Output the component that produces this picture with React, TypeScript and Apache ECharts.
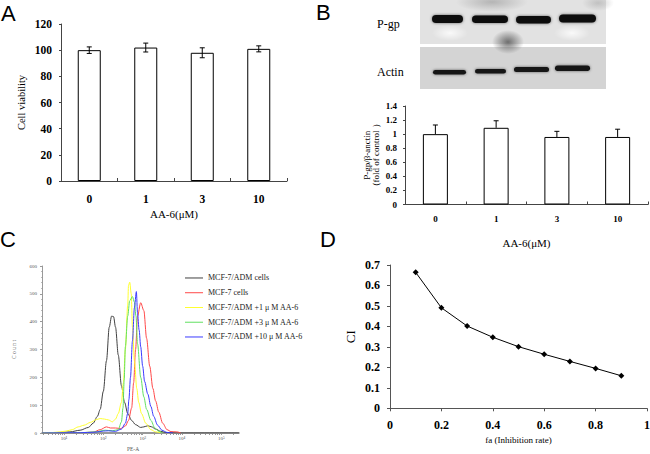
import { useEffect, useRef } from "react";
import * as echarts from "echarts";

const SERIF = "'Liberation Serif', 'Times New Roman', serif";
const SANS = "'Liberation Sans', Arial, sans-serif";

// A: cell viability
const doses = ["0", "1", "3", "10"];
const viability = [100, 102, 98, 101];
const viabilityErr = [2.5, 3.4, 3.8, 2.3];

// B: P-gp / beta-actin
const pgpRatio = [1.0, 1.09, 0.96, 0.96];
const pgpErr = [0.13, 0.1, 0.08, 0.11];

// C: flow cytometry histograms, x = log10(PE-A)
const flowNames = [
  "MCF-7/ADM cells",
  "MCF-7 cells",
  "MCF-7/ADM +1 μ M AA-6",
  "MCF-7/ADM +3 μ M AA-6",
  "MCF-7/ADM +10 μ M AA-6",
];
const flowColors = ["#404040", "#ff4848", "#ffff30", "#60e060", "#3a3aff"];
const flowAdm = [
  [0.44, 0], [0.9, 2], [1.15, 4], [1.41, 10], [1.62, 20], [1.74, 35], [1.85, 60], [1.92, 85],
  [2.0, 150], [2.08, 260], [2.15, 380], [2.21, 420], [2.26, 418], [2.31, 380], [2.38, 280],
  [2.46, 170], [2.54, 110], [2.62, 70], [2.72, 45], [2.82, 30], [2.95, 20], [3.03, 22],
  [3.13, 26], [3.23, 22], [3.33, 14], [3.46, 6], [3.59, 2], [3.85, 0], [5.45, 0],
];
const flowMcf7 = [
  [0.44, 0], [1.41, 1], [1.74, 3], [1.92, 12], [2.08, 22], [2.18, 18], [2.31, 18], [2.44, 16],
  [2.56, 25], [2.64, 45], [2.72, 90], [2.77, 180], [2.82, 300], [2.87, 420], [2.95, 468],
  [3.03, 440], [3.1, 340], [3.18, 240], [3.26, 160], [3.33, 115], [3.41, 75], [3.51, 35],
  [3.62, 12], [3.72, 5], [3.87, 4], [3.97, 0],
];
const flowAa1 = [
  [0.44, 0], [0.64, 1], [0.9, 4], [1.05, 7], [1.21, 12], [1.36, 22], [1.51, 28], [1.67, 38],
  [1.82, 48], [1.92, 52], [2.03, 50], [2.13, 47], [2.23, 40], [2.31, 50], [2.38, 70],
  [2.46, 110], [2.51, 180], [2.56, 300], [2.62, 460], [2.64, 530], [2.67, 542], [2.71, 500],
  [2.74, 380], [2.79, 260], [2.85, 160], [2.9, 110], [2.97, 70], [3.08, 35], [3.21, 12],
  [3.33, 4], [3.46, 0],
];
const flowAa3 = [
  [0.44, 0], [1.41, 1], [1.79, 4], [2.05, 10], [2.23, 8], [2.38, 12], [2.46, 40], [2.5, 90],
  [2.53, 190], [2.56, 310], [2.62, 420], [2.67, 475], [2.74, 490], [2.79, 470], [2.83, 420],
  [2.87, 320], [2.95, 200], [3.03, 130], [3.1, 85], [3.21, 45], [3.31, 18], [3.41, 6], [3.51, 0],
];
const flowAa10 = [
  [0.44, 0], [1.41, 1], [1.79, 3], [2.0, 7], [2.13, 8], [2.31, 6], [2.46, 14], [2.56, 35],
  [2.62, 70], [2.65, 120], [2.69, 200], [2.74, 330], [2.79, 450], [2.84, 508], [2.87, 430],
  [2.91, 370], [2.95, 310], [3.0, 240], [3.05, 185], [3.13, 140], [3.21, 95], [3.28, 60],
  [3.38, 28], [3.49, 10], [3.62, 2], [3.77, 0],
];
const flowData = [flowAdm, flowMcf7, flowAa1, flowAa3, flowAa10];
const decades = [1, 2, 3, 4, 5];
const superscripts = ["⁰", "¹", "²", "³", "⁴", "⁵"];

// D: combination index
const faValues = [0.1, 0.2, 0.3, 0.4, 0.5, 0.6, 0.7, 0.8, 0.9];
const ciValues = [0.664, 0.491, 0.402, 0.347, 0.301, 0.264, 0.229, 0.195, 0.159];

const minorLogTicks: number[] = [];
for (let n = 0; n <= 5; n++) {
  for (let m = 1; m <= 9; m++) {
    const v = n + Math.log10(m);
    if (v >= 0.44 && v <= 5.45) minorLogTicks.push(v);
  }
}

const errorBars = (both: boolean) => (_params: any, api: any) => {
  const i = api.value(0);
  const lo = api.coord([i, api.value(1)]);
  const hi = api.coord([i, api.value(2)]);
  const style = { stroke: "#000", lineWidth: 1 };
  const children: any[] = [
    { type: "line", shape: { x1: hi[0], y1: hi[1], x2: lo[0], y2: lo[1] }, style },
    { type: "line", shape: { x1: hi[0] - 2.5, y1: hi[1], x2: hi[0] + 2.5, y2: hi[1] }, style },
  ];
  if (both) {
    children.push({ type: "line", shape: { x1: lo[0] - 2.5, y1: lo[1], x2: lo[0] + 2.5, y2: lo[1] }, style });
  }
  return { type: "group", children };
};

// western blot drawing helpers
const band = (x: number, y: number, w: number, h: number, fill: string) => ({
  type: "rect",
  shape: { x, y, width: w, height: h, r: h / 2 },
  style: { fill, shadowBlur: 3, shadowColor: "rgba(0,0,0,0.55)" },
  z: 3,
});

const smudge = (cx: number, cy: number, rx: number, ry: number, rgb: string, a: number) => ({
  type: "ellipse",
  shape: { cx, cy, rx, ry },
  style: {
    fill: new echarts.graphic.RadialGradient(0.5, 0.5, 0.5, [
      { offset: 0, color: `rgba(${rgb},${a})` },
      { offset: 1, color: `rgba(${rgb},0)` },
    ]),
  },
  z: 2,
});

export default function App() {
  const ref = useRef<HTMLDivElement | null>(null);

  useEffect(() => {
    if (!ref.current) return;
    const chart = echarts.init(ref.current, undefined, { renderer: "svg" });

    const axisGray = { lineStyle: { color: "#444", width: 1 } };
    const catAxis = (gridIndex: number, margin: number, fontSize: number, name: string, nameGap: number) => ({
      type: "category",
      gridIndex,
      data: doses,
      axisLine: axisGray,
      axisTick: { show: true, inside: true, length: 3, lineStyle: { color: "#444" } },
      axisLabel: { margin, fontFamily: SERIF, fontSize, fontWeight: "bold", color: "#000" },
      name,
      nameLocation: "middle",
      nameGap,
      nameTextStyle: { fontFamily: SERIF, fontSize: 11, color: "#000" },
    });

    chart.setOption({
      animation: false,
      grid: [
        { left: 61, top: 24, width: 226, height: 157, outerBoundsMode: "none" },
        { left: 405, top: 106, width: 243, height: 98.5, outerBoundsMode: "none" },
        { left: 42, top: 266, width: 197, height: 167, outerBoundsMode: "none" },
        { left: 390, top: 265, width: 257, height: 143.3, outerBoundsMode: "none" },
      ],
      legend: {
        data: flowNames.map((name) => ({ name })),
        orient: "vertical",
        left: 185,
        top: 270.6,
        padding: 0,
        itemGap: 0,
        itemWidth: 18,
        itemHeight: 1,
        icon: "rect",
        textStyle: { fontFamily: SERIF, fontSize: 8, color: "#222", lineHeight: 14.75 },
      },
      xAxis: [
        catAxis(0, 12, 11.5, "AA-6(μM)", 27),
        catAxis(1, 10, 9, "AA-6(μM)", 33),
        {
          type: "value",
          gridIndex: 2,
          min: 0.44,
          max: 5.45,
          axisLine: { lineStyle: { color: "#777", width: 1.5 } },
          axisTick: { show: true, length: 2, customValues: minorLogTicks, lineStyle: { color: "#999" } },
          axisLabel: {
            customValues: decades,
            margin: 3,
            fontFamily: SERIF,
            fontSize: 5,
            color: "#555",
            formatter: (v: number) => `10${superscripts[Math.round(v)]}`,
          },
          splitLine: { show: false },
          name: "PE-A",
          nameLocation: "middle",
          nameGap: 13,
          nameTextStyle: { fontFamily: SERIF, fontSize: 5.5, color: "#555", padding: [0, 15, 0, 0] },
        },
        {
          type: "value",
          gridIndex: 3,
          min: 0,
          max: 1,
          interval: 0.2,
          axisLine: { lineStyle: { color: "#555" } },
          axisTick: { show: true, length: 3, lineStyle: { color: "#555" } },
          axisLabel: { margin: 11, fontFamily: SERIF, fontSize: 12, fontWeight: "bold", color: "#000" },
          splitLine: { show: false },
          name: "fa (Inhibition rate)",
          nameLocation: "middle",
          nameGap: 27,
          nameTextStyle: { fontFamily: SERIF, fontSize: 9, color: "#000" },
        },
      ],
      yAxis: [
        {
          type: "value",
          gridIndex: 0,
          min: 0,
          max: 120,
          interval: 20,
          axisLine: { show: true, ...axisGray },
          axisTick: { show: true, length: 2, lineStyle: { color: "#444" } },
          axisLabel: { margin: 9, fontFamily: SERIF, fontSize: 11.5, fontWeight: "bold", color: "#000" },
          splitLine: { show: false },
          name: "Cell viability",
          nameLocation: "middle",
          nameGap: 34,
          nameTextStyle: { fontFamily: SERIF, fontSize: 10.5, color: "#000" },
        },
        {
          type: "value",
          gridIndex: 1,
          min: 0,
          max: 1.4,
          interval: 0.2,
          axisLine: { show: true, ...axisGray },
          axisTick: { show: true, length: 2, lineStyle: { color: "#444" } },
          axisLabel: { margin: 8, fontFamily: SERIF, fontSize: 9, fontWeight: "bold", color: "#000" },
          splitLine: { show: false },
          name: "P-gp/β-anctin\n（fold of control ）",
          nameLocation: "middle",
          nameGap: 25,
          nameTextStyle: { fontFamily: SERIF, fontSize: 9, color: "#000", lineHeight: 9 },
        },
        {
          type: "value",
          gridIndex: 2,
          min: 0,
          max: 600,
          interval: 100,
          axisLine: { show: true, lineStyle: { color: "#999" } },
          axisTick: { show: true, length: 2, lineStyle: { color: "#999" } },
          minorTick: { show: true, splitNumber: 5, length: 1, lineStyle: { color: "#bbb" } },
          axisLabel: { margin: 5, fontFamily: SERIF, fontSize: 5, color: "#555" },
          splitLine: { show: false },
          name: "C o u n t",
          nameLocation: "middle",
          nameGap: 25,
          nameTextStyle: { fontFamily: SERIF, fontSize: 5.5, color: "#555" },
        },
        {
          type: "value",
          gridIndex: 3,
          min: 0,
          max: 0.7,
          interval: 0.1,
          axisLine: { show: true, lineStyle: { color: "#555" } },
          axisTick: { show: true, length: 3, lineStyle: { color: "#555" } },
          axisLabel: { margin: 10, fontFamily: SERIF, fontSize: 12, fontWeight: "bold", color: "#000" },
          splitLine: { show: false },
          name: "CI",
          nameLocation: "middle",
          nameGap: 33,
          nameTextStyle: { fontFamily: SERIF, fontSize: 13, color: "#000" },
        },
      ],
      series: [
        {
          type: "bar",
          xAxisIndex: 0,
          yAxisIndex: 0,
          data: viability,
          barWidth: 23,
          itemStyle: { color: "#fff", borderColor: "#000", borderWidth: 1 },
        },
        {
          type: "custom",
          xAxisIndex: 0,
          yAxisIndex: 0,
          renderItem: errorBars(true),
          encode: { x: 0, y: [1, 2] },
          data: viability.map((v, i) => [i, v - viabilityErr[i], v + viabilityErr[i]]),
          z: 5,
        },
        {
          type: "bar",
          xAxisIndex: 1,
          yAxisIndex: 1,
          data: pgpRatio,
          barWidth: 25,
          itemStyle: { color: "#fff", borderColor: "#000", borderWidth: 1 },
          z: 6,
        },
        {
          type: "custom",
          xAxisIndex: 1,
          yAxisIndex: 1,
          renderItem: errorBars(false),
          encode: { x: 0, y: [1, 2] },
          data: pgpRatio.map((v, i) => [i, v, v + pgpErr[i]]),
          z: 5,
        },
        ...flowData.map((data, k) => ({
          type: "line",
          name: flowNames[k],
          xAxisIndex: 2,
          yAxisIndex: 2,
          data,
          smooth: 0.3,
          smoothMonotone: "x",
          showSymbol: false,
          color: flowColors[k],
          lineStyle: { width: 1, color: flowColors[k] },
        })),
        {
          type: "line",
          xAxisIndex: 3,
          yAxisIndex: 3,
          data: faValues.map((x, i) => [x, ciValues[i]]),
          symbol: "diamond",
          symbolSize: 6,
          color: "#000",
          lineStyle: { width: 1, color: "#000" },
        },
      ],
      graphic: [
        { type: "text", left: 1, top: 2, style: { text: "A", font: `22px ${SANS}`, fill: "#000" } },
        { type: "text", left: 316, top: 1, style: { text: "B", font: `22px ${SANS}`, fill: "#000" } },
        { type: "text", left: 0, top: 228, style: { text: "C", font: `22px ${SANS}`, fill: "#000" } },
        { type: "text", left: 320, top: 228, style: { text: "D", font: `22px ${SANS}`, fill: "#000" } },
        { type: "text", left: 377, top: 18, style: { text: "P-gp", font: `12px ${SERIF}`, fill: "#000" } },
        { type: "text", left: 377, top: 66, style: { text: "Actin", font: `12px ${SERIF}`, fill: "#000" } },
        // P-gp blot
        { type: "rect", shape: { x: 420, y: 0, width: 186, height: 44 }, style: { fill: "#e2e2e2" }, z: 1 },
        smudge(508, 42, 16, 12, "90,90,90", 0.85),
        smudge(492, 2, 36, 10, "150,150,150", 0.6),
        smudge(598, 3, 16, 8, "160,160,160", 0.5),
        smudge(450, 33, 18, 8, "255,255,255", 0.8),
        smudge(572, 33, 18, 8, "255,255,255", 0.8),
        band(432, 15, 31, 8, "#0c0c0c"),
        band(472, 15.5, 36, 7.5, "#0c0c0c"),
        band(516, 16, 35, 7.5, "#0c0c0c"),
        band(559, 14.5, 37, 8, "#0c0c0c"),
        // actin blot
        { type: "rect", shape: { x: 420, y: 47, width: 186, height: 42 }, style: { fill: "#d4d4d4" }, z: 1 },
        band(433, 70, 33, 4.5, "#161616"),
        band(475, 69, 31, 4.5, "#161616"),
        band(514, 67, 35, 5, "#141414"),
        band(555, 65.5, 35, 5.5, "#121212"),
      ],
    });

    return () => chart.dispose();
  }, []);

  return (
    <div
      ref={ref}
      style={{ position: "fixed", left: 0, top: 0, width: 650, height: 454, background: "#fff" }}
    />
  );
}
